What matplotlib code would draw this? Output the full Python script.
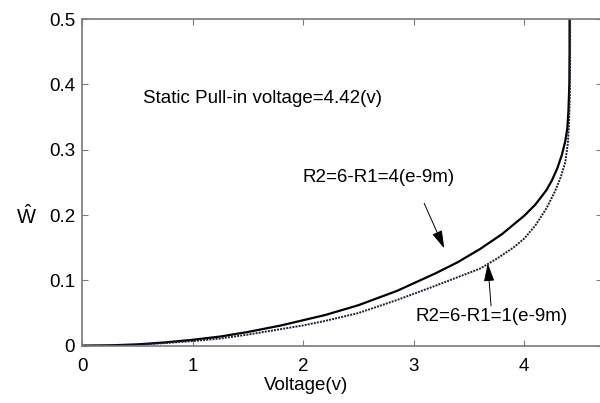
"""
Static pull-in curve
====================

Deflection versus applied voltage for two electrode radii.
"""

from __future__ import annotations

import matplotlib

matplotlib.use("Agg")

import matplotlib.pyplot as plt

# =============================================================================
# DATA
# =============================================================================

VOLTAGE_R1_4 = [
    0.0, 0.25, 0.5, 0.75, 1.0, 1.25, 1.5, 1.8, 2.2, 2.5, 2.85, 3.2,
    3.4, 3.6, 3.8, 4.0, 4.1, 4.2, 4.25, 4.3, 4.34, 4.37, 4.39, 4.40,
    4.408, 4.41, 4.41,
]
DEFLECTION_R1_4 = [
    0.0, 0.0005, 0.002, 0.005, 0.009, 0.014, 0.021, 0.031, 0.047, 0.062,
    0.084, 0.111, 0.128, 0.148, 0.171, 0.199, 0.216, 0.238, 0.253, 0.272,
    0.292, 0.312, 0.333, 0.36, 0.40, 0.45, 0.5,
]

VOLTAGE_R1_1 = [
    0.0, 0.25, 0.5, 0.75, 1.0, 1.25, 1.5, 2.0, 2.2, 2.5, 2.85, 3.2,
    3.4, 3.6, 3.75, 3.9, 4.0, 4.1, 4.2, 4.28, 4.33, 4.37, 4.395, 4.405,
    4.412, 4.415, 4.415,
]
DEFLECTION_R1_1 = [
    0.0, 0.0004, 0.0015, 0.004, 0.007, 0.011, 0.017, 0.031, 0.038, 0.050,
    0.070, 0.092, 0.105, 0.118, 0.133, 0.150, 0.164, 0.184, 0.210, 0.237,
    0.258, 0.280, 0.31, 0.34, 0.38, 0.43, 0.5,
]

X_TICKS = [0, 1, 2, 3, 4]
Y_TICKS = [0, 0.1, 0.2, 0.3, 0.4, 0.5]
Y_TICK_LABELS = ["0", "0.1", "0.2", "0.3", "0.4", "0.5"]

PULL_IN_TEXT = "Static Pull-in voltage=4.42(v)"
LABEL_R1_4 = "R2=6-R1=4(e-9m)"
LABEL_R1_1 = "R2=6-R1=1(e-9m)"

# =============================================================================
# STYLE
# =============================================================================

plt.rcParams["font.family"] = ["Liberation Sans", "DejaVu Sans"]
plt.rcParams["mathtext.fontset"] = "custom"
plt.rcParams["mathtext.rm"] = "Liberation Sans"
plt.rcParams["mathtext.it"] = "Liberation Sans"

AXIS_GREY = "#7a7a7a"
FONT_SIZE = 13.5


def main() -> None:
    """
    Draw the figure and save it.
    """

    figure = plt.figure(
        figsize=(6.0, 4.03),
        dpi=100,
    )
    axis = figure.add_axes(
        [0.1367, 0.1422, 0.866, 0.8102],
    )

    axis.plot(
        VOLTAGE_R1_4,
        DEFLECTION_R1_4,
        color="black",
        linewidth=1.6,
    )
    axis.plot(
        VOLTAGE_R1_1,
        DEFLECTION_R1_1,
        color="#1c1c3a",
        linewidth=1.4,
        linestyle=(0, (1, 0.6)),
    )

    axis.set_xlim(0, 4.7)
    axis.set_ylim(0, 0.5)
    axis.set_xticks(X_TICKS)
    axis.set_yticks(Y_TICKS)
    axis.set_yticklabels(Y_TICK_LABELS)

    axis.tick_params(
        direction="in",
        top=True,
        right=True,
        length=4,
        width=0.8,
        color=AXIS_GREY,
        labelsize=FONT_SIZE,
        pad=5,
    )
    axis.tick_params(
        axis="x",
        pad=9,
    )
    for spine in axis.spines.values():
        spine.set_color(AXIS_GREY)
        spine.set_linewidth(1.2)

    axis.set_xlabel(
        "Voltage(v)",
        fontsize=FONT_SIZE,
    )
    axis.xaxis.set_label_coords(0.432, -0.095)

    axis.set_ylabel(
        r"$\hat{\mathrm{W}}$",
        fontsize=FONT_SIZE + 1,
        rotation=0,
    )
    axis.yaxis.set_label_coords(-0.106, 0.36)

    axis.text(
        0.55,
        0.378,
        PULL_IN_TEXT,
        fontsize=FONT_SIZE,
        va="center",
    )

    arrow = dict(
        arrowstyle="-|>,head_length=1.1,head_width=0.32",
        color="black",
        linewidth=0.7,
        shrinkA=0,
        shrinkB=0,
    )

    axis.text(
        1.99,
        0.257,
        LABEL_R1_4,
        fontsize=FONT_SIZE,
        va="center",
    )
    axis.annotate(
        "",
        xy=(3.277, 0.149),
        xytext=(3.095, 0.218),
        arrowprops=arrow,
    )

    axis.text(
        3.02,
        0.044,
        LABEL_R1_1,
        fontsize=FONT_SIZE,
        va="center",
    )
    axis.annotate(
        "",
        xy=(3.67, 0.126),
        xytext=(3.70, 0.061),
        arrowprops=arrow,
    )

    figure.savefig("out.png", dpi=100)
    plt.close(figure)


if __name__ == "__main__":
    main()
